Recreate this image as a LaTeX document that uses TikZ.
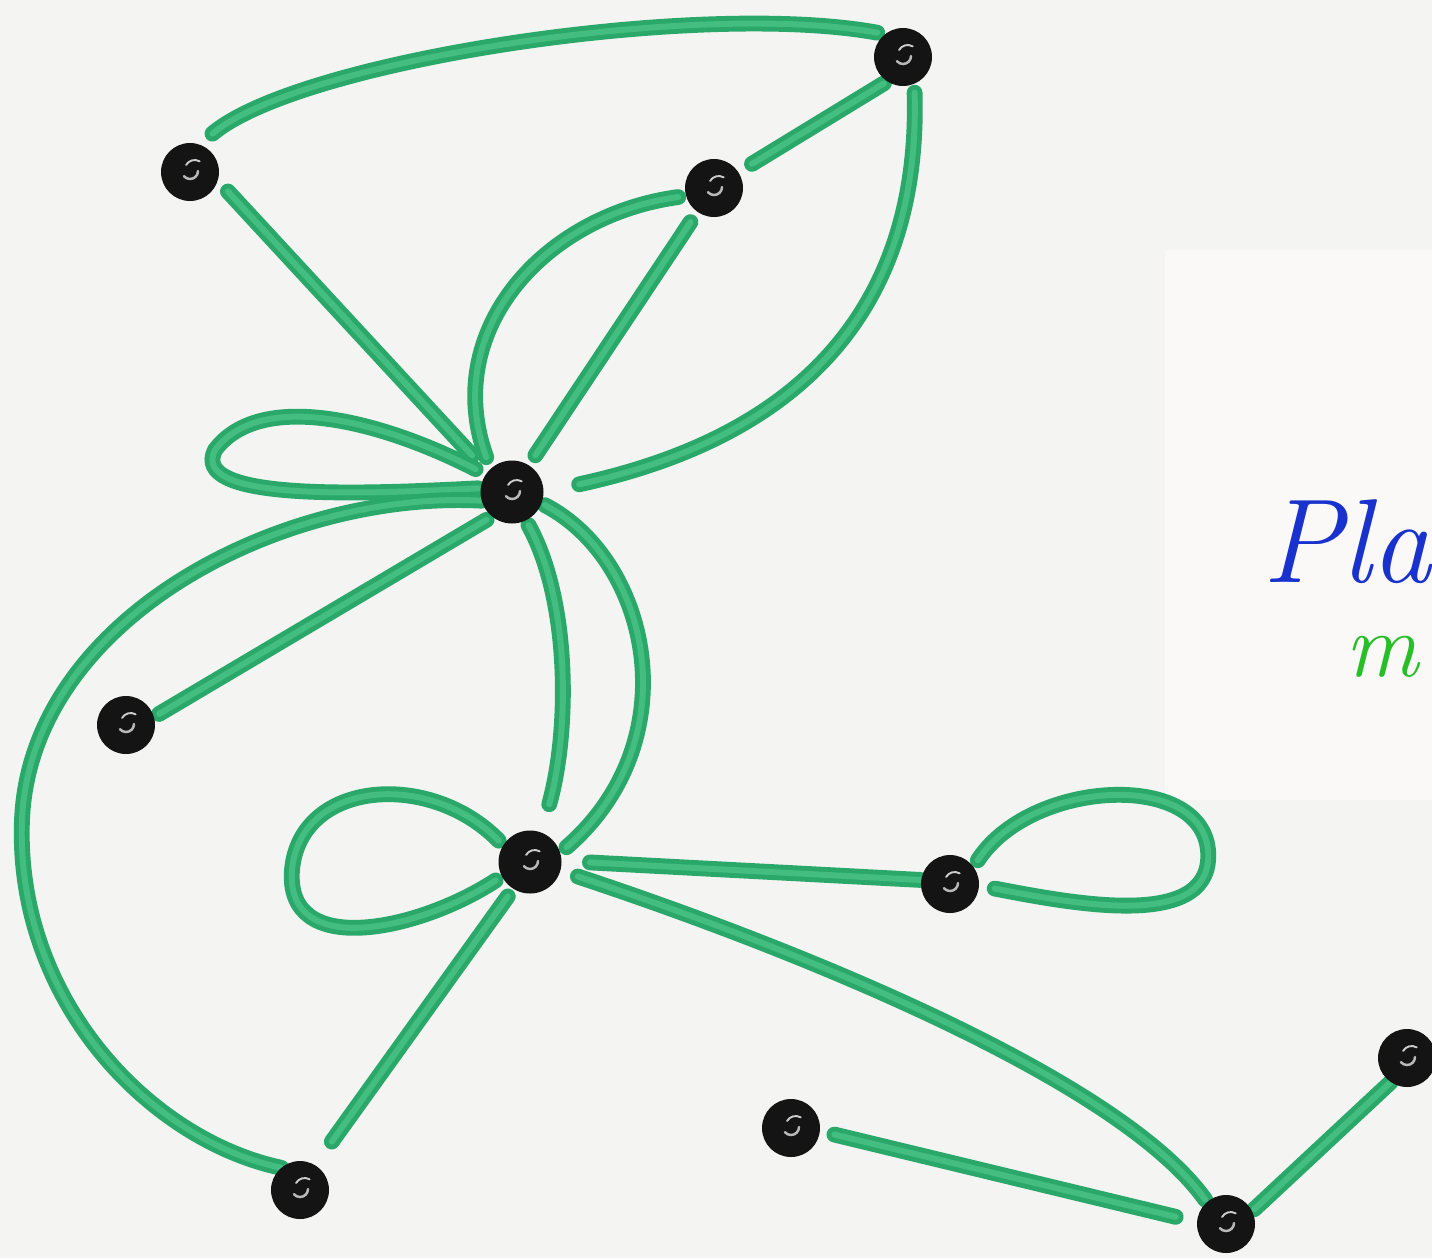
\documentclass[tikz,border=0pt]{standalone}
\definecolor{paper}{RGB}{244,244,243}
\definecolor{paperwarm}{RGB}{250,249,247}
\definecolor{tube}{RGB}{42,168,106}
\definecolor{tubelight}{RGB}{68,190,128}
\definecolor{inkblue}{RGB}{25,50,205}
\definecolor{inkgreen}{RGB}{40,190,40}
\pgfdeclarelayer{paperlayer}
\pgfdeclarelayer{tubes}
\pgfsetlayers{paperlayer,tubes,main}
\begin{document}
\begin{tikzpicture}[x=0.02cm,y=-0.02cm,
  bead/.style={circle, fill=black!92, inner sep=0pt, outer sep=0pt, minimum size=1.16cm,
    path picture={\draw[gray!55, line width=1.4pt, line cap=round]
      ([xshift=0.16cm,yshift=0.02cm]path picture bounding box.center)
      arc[start angle=0, end angle=-140, radius=0.16cm];
      \draw[gray!40, line width=1.1pt, line cap=round]
      ([xshift=-0.08cm,yshift=0.14cm]path picture bounding box.center)
      arc[start angle=150, end angle=60, radius=0.2cm];}},
  bigbead/.style={bead, minimum size=1.26cm},
  tubeline/.style={draw=tube, double=tubelight, double distance=3.4pt, line width=2.8pt, line cap=round},
  sh/.style 2 args={shorten <=#1, shorten >=#2},
  label/.style={anchor=base west, inner sep=0pt, font=\fontsize{68}{70}\selectfont\itshape}]

\useasboundingbox (0,0) rectangle (1432,1258);
\begin{pgfonlayer}{paperlayer}
  \fill[paper] (0,0) rectangle (1432,1258);
  \fill[paperwarm] (1165,250) rectangle (1432,800);
\end{pgfonlayer}

% beads
\node[bead] (A) at (190,172) {};
\node[bead] (B) at (903,57) {};
\node[bead] (C) at (714,188) {};
\node[bigbead] (D) at (512,492) {};
\node[bead] (E) at (126,725) {};
\node[bigbead] (F) at (530,862) {};
\node[bead] (G) at (950,884) {};
\node[bead] (H) at (300,1190) {};
\node[bead] (I) at (791,1128) {};
\node[bead] (J) at (1226,1224) {};
\node[bead] (K) at (1407,1058) {};

% text at the right edge
\node[label, text=inkblue] (title) at (1262,582) {Pla};
\node[label, text=inkgreen, font=\fontsize{52}{56}\selectfont\itshape] (sub) at (1345,676) {m};

\begin{pgfonlayer}{tubes}
  \draw[tubeline, sh={0.34cm}{0.16cm}] (A.71) .. controls (300,60) and (700,0) .. (B.128);
  \draw[tubeline, sh={0.3cm}{0.45cm}] (A.-17) -- (D.141);
  \draw[tubeline, sh={0.08cm}{0.32cm}] (B.237) -- (C.33);
  \draw[tubeline, sh={0.18cm}{0.73cm}] (B.-67) .. controls (920,280) and (830,430) .. (D.0);
  \draw[tubeline, sh={0.25cm}{0.24cm}] (C.235) -- (D.58);
  \draw[tubeline, sh={0.16cm}{0.25cm}] (C.196) .. controls (545,215) and (440,330) .. (D.133);
  \draw[tubeline, sh={0.23cm}{0.05cm}] (D.146) .. controls (380,420) and (260,390) .. (215,450)
        .. controls (190,500) and (350,495) .. (D.173);
  \draw[tubeline] (D.196) .. controls (280,490) and (30,620) .. (22,820)
        .. controls (15,1000) and (150,1140) .. (H.130);
  \draw[tubeline, sh={0.13cm}{0.12cm}] (D.231) -- (E.16);
  \draw[tubeline, sh={0.11cm}{0.59cm}] (D.-64) .. controls (570,600) and (570,730) .. (F.69);
  \draw[tubeline, sh={0.08cm}{0.17cm}] (D.-21) .. controls (650,560) and (690,740) .. (F.17);
  \draw[tubeline, sh={0.13cm}{0.15cm}] (F.148) .. controls (430,770) and (300,780) .. (292,870)
        .. controls (285,960) and (420,930) .. (F.207);
  \draw[tubeline, sh={0.19cm}{0.58cm}] (F.238) -- (H.59);
  \draw[tubeline, sh={0.57cm}{0.02cm}] (F.2) -- (G.172);
  \draw[tubeline, sh={0.37cm}{0.06cm}] (F.-16) .. controls (800,950) and (1120,1080) .. (J.131);
  \draw[tubeline, sh={0.16cm}{0.32cm}] (G.36) .. controls (1030,780) and (1200,770) .. (1208,850)
        .. controls (1215,930) and (1080,905) .. (G.-3);
  \draw[tubeline, sh={0.3cm}{0.44cm}] (I.-6) -- (J.176);
  \draw[tubeline, sh={0.06cm}{0cm}] (J.26) -- (K.236);
\end{pgfonlayer}
\end{tikzpicture}
\end{document}
